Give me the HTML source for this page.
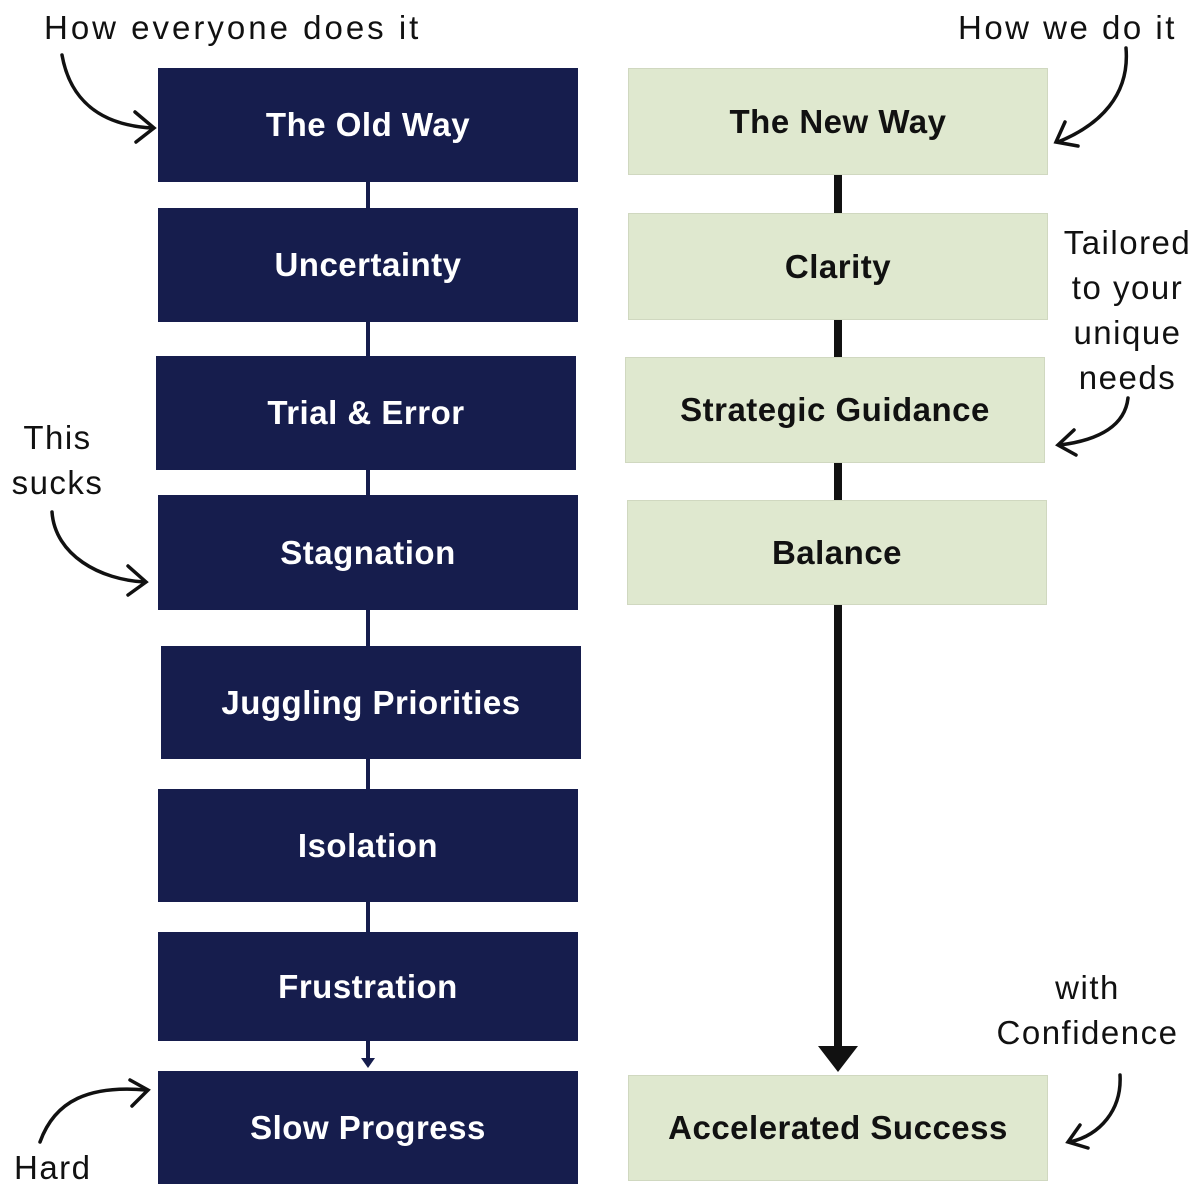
<!DOCTYPE html>
<html><head><style>
body{margin:0;width:1200px;height:1200px;background:#fff;position:relative;overflow:hidden;font-family:"Liberation Sans","DejaVu Sans",sans-serif}
.b{position:absolute;display:flex;align-items:center;justify-content:center;font-weight:bold;font-size:33px;letter-spacing:0.5px}
.l{background:#161d4d;color:#fff}
.r{background:#dfe8cf;color:#111;border:1px solid #d0d8c0;box-sizing:border-box}
.t{position:absolute;font-size:33px;color:#111;text-align:center;line-height:45px;letter-spacing:1.5px}
</style></head><body>
<svg width="1200" height="1200" style="position:absolute;left:0;top:0">
<line x1="368" y1="180" x2="368" y2="1062" stroke="#161d4d" stroke-width="4"/>
<polygon points="361,1058 375,1058 368,1068" fill="#161d4d"/>
<g stroke="#111" stroke-width="8">
<line x1="838" y1="175" x2="838" y2="213"/>
<line x1="838" y1="320" x2="838" y2="357"/>
<line x1="838" y1="463" x2="838" y2="500"/>
<line x1="838" y1="605" x2="838" y2="1050"/>
</g>
<polygon points="818,1046 858,1046 838,1072" fill="#111"/>
<g fill="none" stroke="#111" stroke-width="3.5" stroke-linecap="round">
<path d="M62,55 C70,100 100,125 152,128"/><path d="M135,112 L154,128 L136,142"/>
<path d="M1126,48 C1130,95 1100,125 1058,142"/><path d="M1065,122 L1056,142 L1078,146"/>
<path d="M1128,398 C1125,425 1100,440 1060,445"/><path d="M1074,430 L1058,445 L1076,455"/>
<path d="M52,512 C55,555 100,580 145,582"/><path d="M128,566 L146,582 L128,595"/>
<path d="M40,1142 C55,1100 90,1085 146,1090"/><path d="M130,1080 L148,1090 L132,1106"/>
<path d="M1120,1075 C1122,1110 1100,1135 1070,1142"/><path d="M1080,1125 L1068,1142 L1088,1148"/>
</g>
</svg>
<div class="b l" style="left:158px;top:68px;width:420px;height:114px">The Old Way</div>
<div class="b l" style="left:158px;top:208px;width:420px;height:114px">Uncertainty</div>
<div class="b l" style="left:156px;top:356px;width:420px;height:114px">Trial &amp; Error</div>
<div class="b l" style="left:158px;top:495px;width:420px;height:115px">Stagnation</div>
<div class="b l" style="left:161px;top:646px;width:420px;height:113px">Juggling Priorities</div>
<div class="b l" style="left:158px;top:789px;width:420px;height:113px">Isolation</div>
<div class="b l" style="left:158px;top:932px;width:420px;height:109px">Frustration</div>
<div class="b l" style="left:158px;top:1071px;width:420px;height:113px">Slow Progress</div>
<div class="b r" style="left:628px;top:68px;width:420px;height:107px">The New Way</div>
<div class="b r" style="left:628px;top:213px;width:420px;height:107px">Clarity</div>
<div class="b r" style="left:625px;top:357px;width:420px;height:106px">Strategic Guidance</div>
<div class="b r" style="left:627px;top:500px;width:420px;height:105px">Balance</div>
<div class="b r" style="left:628px;top:1075px;width:420px;height:106px">Accelerated Success</div>
<div class="t" style="left:44px;top:5px;letter-spacing:3px">How everyone does it</div>
<div class="t" style="left:958px;top:5px;letter-spacing:2.5px">How we do it</div>
<div class="t" style="left:1055px;top:220px;width:145px">Tailored<br>to your<br>unique<br>needs</div>
<div class="t" style="left:0px;top:415px;width:115px">This<br>sucks</div>
<div class="t" style="left:14px;top:1145px">Hard</div>
<div class="t" style="left:995px;top:965px;width:185px">with<br>Confidence</div>
</body></html>
